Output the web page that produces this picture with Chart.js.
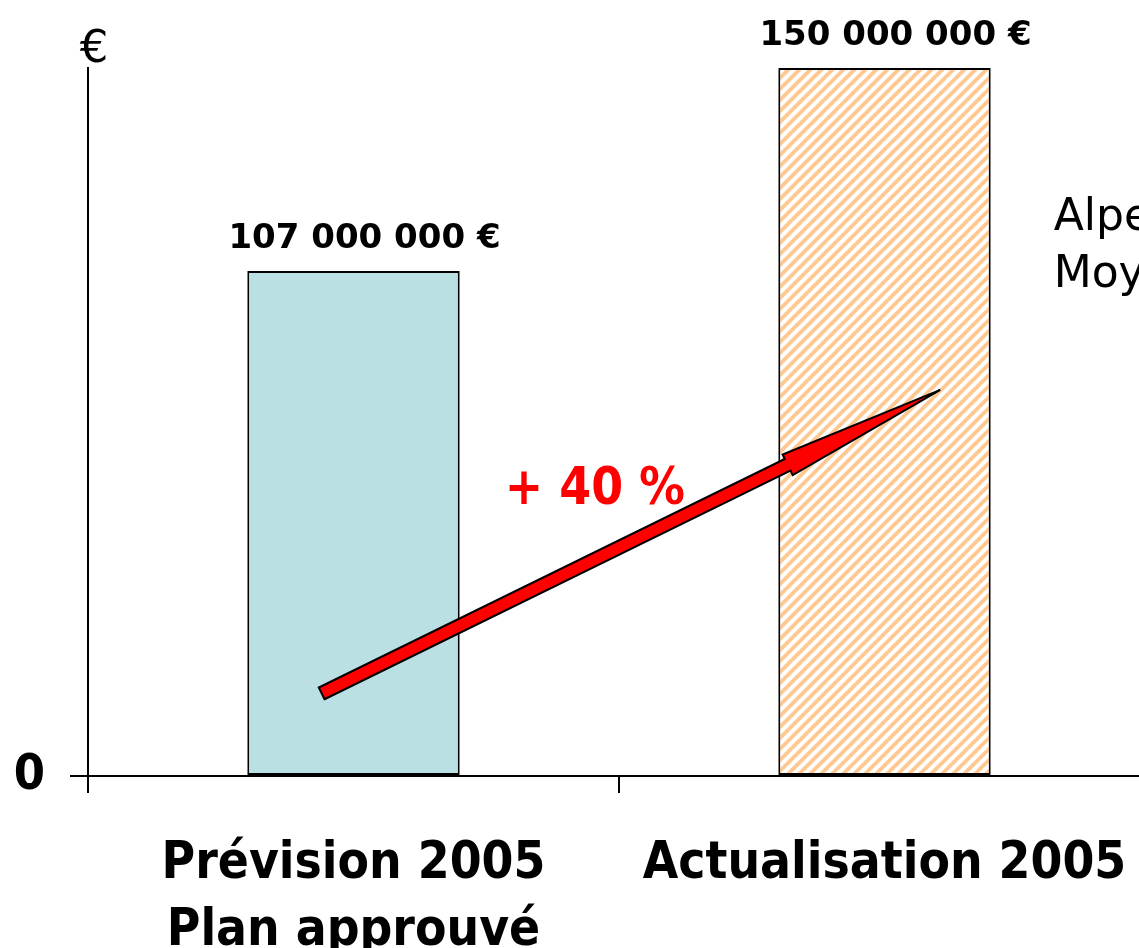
<!DOCTYPE html>
<html>
<head>
<meta charset="utf-8">
<script src="https://cdn.jsdelivr.net/npm/chart.js@4/dist/chart.umd.min.js"></script>
<style>
html, body { margin: 0; padding: 0; overflow: hidden; background: #ffffff; }
#wrap { width: 1150px; height: 948px; }
</style>
</head>
<body>
<div id="wrap"><canvas id="c" width="1150" height="948"></canvas></div>
<script>
// ---- data ----
const categories = [["Prévision 2005", "Plan approuvé"], ["Actualisation 2005"]];
const values = [107000000, 150000000];
const yMax = 150000000;
const yTickValues = [0];
const yAxisTitle = "€";
const changeLabel = "+ 40 %";
const sideLines = ["Alpes", "Moyennes"];
// arrow endpoints in data space [category index, value]
const arrowFrom = [-0.06, 17500000];
const arrowTo = [1.105, 81800000];

const CONDB = "'DejaVu Sans Condensed', 'DejaVu Sans', sans-serif";

function fmt(v) {
  return String(v).replace(/\B(?=(\d{3})+(?!\d))/g, " ") + " €";
}

function makeHatch() {
  const p = document.createElement('canvas');
  const n = 11;
  p.width = n; p.height = n;
  const g = p.getContext('2d');
  g.fillStyle = '#ffffff';
  g.fillRect(0, 0, n, n);
  g.strokeStyle = '#FFC891';
  g.lineWidth = 3.8;
  g.beginPath();
  g.moveTo(-3, n + 3); g.lineTo(n + 3, -3);
  g.moveTo(-n, n); g.lineTo(n, -n);
  g.moveTo(0, 2 * n); g.lineTo(2 * n, 0);
  g.stroke();
  return document.getElementById('c').getContext('2d').createPattern(p, 'repeat');
}
const hatch = makeHatch();

const overlay = {
  id: 'overlay',
  afterDatasetsDraw(chart) {
    const ctx = chart.ctx;
    const xs = chart.scales.x, ys = chart.scales.y;
    const area = chart.chartArea;
    const meta = chart.getDatasetMeta(0);
    ctx.save();
    // value labels
    ctx.fillStyle = '#000';
    ctx.font = "bold 34px 'DejaVu Sans', sans-serif";
    ctx.textAlign = 'center';
    ctx.textBaseline = 'alphabetic';
    meta.data.forEach((bar, i) => {
      ctx.fillText(fmt(values[i]), bar.x + 11, bar.y - 23);
    });
    // euro axis title
    ctx.font = "45px 'DejaVu Sans', sans-serif";
    ctx.fillText(yAxisTitle, area.left + 6, area.top - 6);
    // side text
    ctx.textAlign = 'left';
    ctx.font = "44px 'DejaVu Sans', sans-serif";
    const bar2 = meta.data[1];
    sideLines.forEach((t, i) => {
      ctx.fillText(t, bar2.x + bar2.width / 2 + 63, area.top + 162 + i * 57);
    });
    // arrow
    const x0 = xs.getPixelForValue(arrowFrom[0]), y0 = ys.getPixelForValue(arrowFrom[1]);
    const x1 = xs.getPixelForValue(arrowTo[0]), y1 = ys.getPixelForValue(arrowTo[1]);
    const dx = x1 - x0, dy = y1 - y0, L = Math.hypot(dx, dy);
    const ux = dx / L, uy = dy / L, nx = -uy, ny = ux;
    const hs = 6.5, hh = 11.5, headLen = 170;
    const bx = x1 - ux * headLen, by = y1 - uy * headLen;
    ctx.beginPath();
    ctx.moveTo(x0 + nx * hs, y0 + ny * hs);
    ctx.lineTo(bx + nx * hs, by + ny * hs);
    ctx.lineTo(bx + nx * hh, by + ny * hh);
    ctx.lineTo(x1, y1);
    ctx.lineTo(bx - nx * hh, by - ny * hh);
    ctx.lineTo(bx - nx * hs, by - ny * hs);
    ctx.lineTo(x0 - nx * hs, y0 - ny * hs);
    ctx.closePath();
    ctx.fillStyle = '#FF0000';
    ctx.fill();
    ctx.lineWidth = 2;
    ctx.lineJoin = 'miter';
    ctx.strokeStyle = '#000';
    ctx.stroke();
    // change label
    ctx.fillStyle = '#FF0000';
    ctx.textAlign = 'center';
    ctx.font = "bold 51px " + CONDB;
    const mx = (x0 + x1) / 2, my = (y0 + y1) / 2;
    ctx.fillText(changeLabel, mx - 36, my - 38);
    ctx.restore();
  }
};

new Chart(document.getElementById('c'), {
  type: 'bar',
  data: {
    labels: categories,
    datasets: [{
      data: values,
      backgroundColor: ['#BAE0E3', hatch],
      borderColor: '#000000',
      borderWidth: 2,
      borderSkipped: false,
      barPercentage: 0.4,
      categoryPercentage: 1.0
    }]
  },
  options: {
    responsive: false,
    animation: false,
    events: [],
    layout: { padding: { top: 68, left: 0, right: 0, bottom: 0 } },
    plugins: { legend: { display: false }, tooltip: { enabled: false } },
    scales: {
      x: {
        grid: { offset: true, drawOnChartArea: false, drawTicks: true, tickLength: 17, color: '#000', lineWidth: 2 },
        border: { display: true, color: '#000', width: 2 },
        ticks: {
          color: '#000',
          padding: 38,
          maxRotation: 0,
          autoSkip: false,
          font: { family: CONDB, size: 51, weight: 'bold', lineHeight: 1.32 }
        },
        afterFit(s) { s.height = 172; s.paddingLeft = 0; s.paddingRight = 0; }
      },
      y: {
        min: 0,
        max: yMax,
        grid: { drawOnChartArea: false, drawTicks: true, tickLength: 18, color: '#000', lineWidth: 2 },
        border: { display: true, color: '#000', width: 2 },
        afterBuildTicks(s) { s.ticks = yTickValues.map(v => ({ value: v })); },
        ticks: {
          color: '#000',
          padding: 25,
          callback: (v) => String(v),
          font: { family: CONDB, size: 50, weight: 'bold' }
        },
        afterFit(s) { s.width = 88; s.paddingTop = 0; s.paddingBottom = 0; }
      }
    }
  },
  plugins: [overlay]
});
</script>
</body>
</html>
